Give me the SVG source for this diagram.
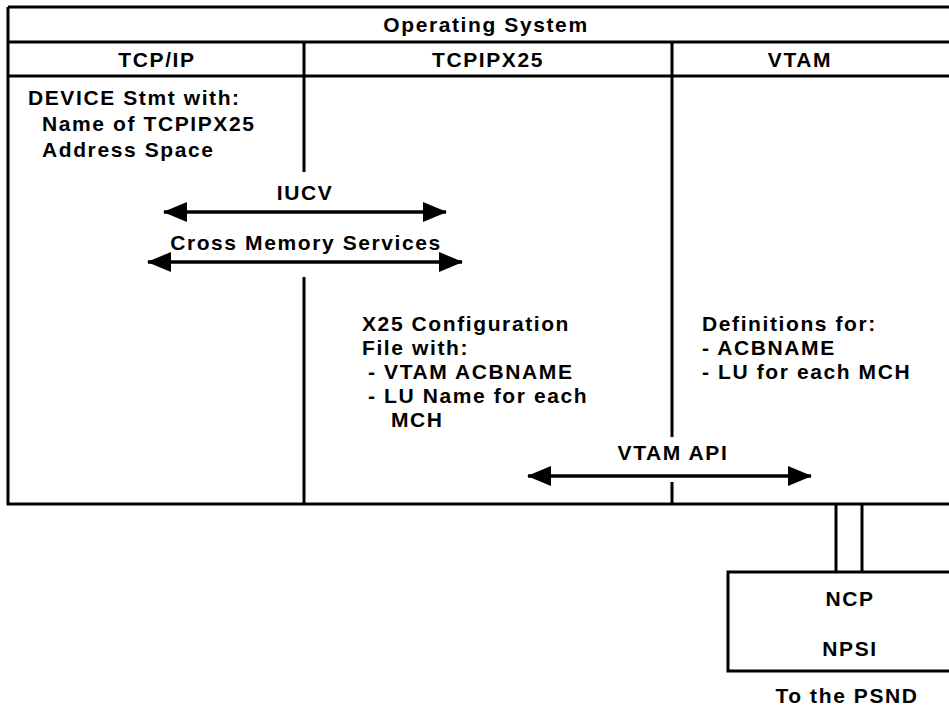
<svg xmlns="http://www.w3.org/2000/svg" width="949" height="708" viewBox="0 0 949 708">
<style>
.ln{stroke:#000;stroke-width:3;fill:none}
.arr{stroke:#000;stroke-width:3.5;fill:none;marker-start:url(#ah);marker-end:url(#ah)}
text{font-family:"Liberation Sans",Arial,sans-serif;font-size:21px;font-weight:bold;letter-spacing:1.6px;fill:#000}
.c{text-anchor:middle}
</style>
<defs>
<marker id="ah" viewBox="0 0 24 20" refX="23" refY="10" markerWidth="24" markerHeight="20" orient="auto-start-reverse" markerUnits="userSpaceOnUse">
<path d="M0,0 L24,10 L0,20 z" fill="#000"/>
</marker>
</defs>
<rect width="949" height="708" fill="#fff"/>
<g id="frame">
<path class="ln" d="M8,7 H949 M8,42 H949 M8,76 H949 M8,7 V504 H949"/>
<path class="ln" d="M304,42 V172 M304,277 V504 M672,42 V437 M672,482 V504"/>
</g>
<g id="os"><text class="c" x="486" y="32">Operating System</text></g>
<g id="tcpip">
<text class="c" x="157" y="67">TCP/IP</text>
<text x="28" y="105">DEVICE Stmt with:</text>
<text x="42" y="131">Name of TCPIPX25</text>
<text x="42" y="157">Address Space</text>
</g>
<g id="tcpipx25">
<text class="c" x="488" y="67">TCPIPX25</text>
<text x="362" y="331">X25 Configuration</text>
<text x="362" y="355">File with:</text>
<text x="368" y="379">- VTAM ACBNAME</text>
<text x="368" y="403">- LU Name for each</text>
<text x="391" y="427">MCH</text>
</g>
<g id="vtam">
<text class="c" x="800" y="67">VTAM</text>
<text x="702" y="331">Definitions for:</text>
<text x="702" y="355">- ACBNAME</text>
<text x="702" y="379">- LU for each MCH</text>
</g>
<g id="ncp">
<path class="ln" d="M949,572 H728 V671 H949"/>
<text class="c" x="850" y="606">NCP</text>
<text class="c" x="850" y="656">NPSI</text>
<text class="c" x="847" y="703">To the PSND</text>
</g>
<g id="connectors">
<path class="arr" d="M164,212 H446"/>
<path class="arr" d="M148,262 H462"/>
<path class="arr" d="M528,476 H811"/>
<path class="ln" d="M836,504 V572 M862,504 V572"/>
<text class="c" x="305" y="200">IUCV</text>
<text class="c" x="306" y="250">Cross Memory Services</text>
<text class="c" x="673" y="460">VTAM API</text>
</g>
</svg>
